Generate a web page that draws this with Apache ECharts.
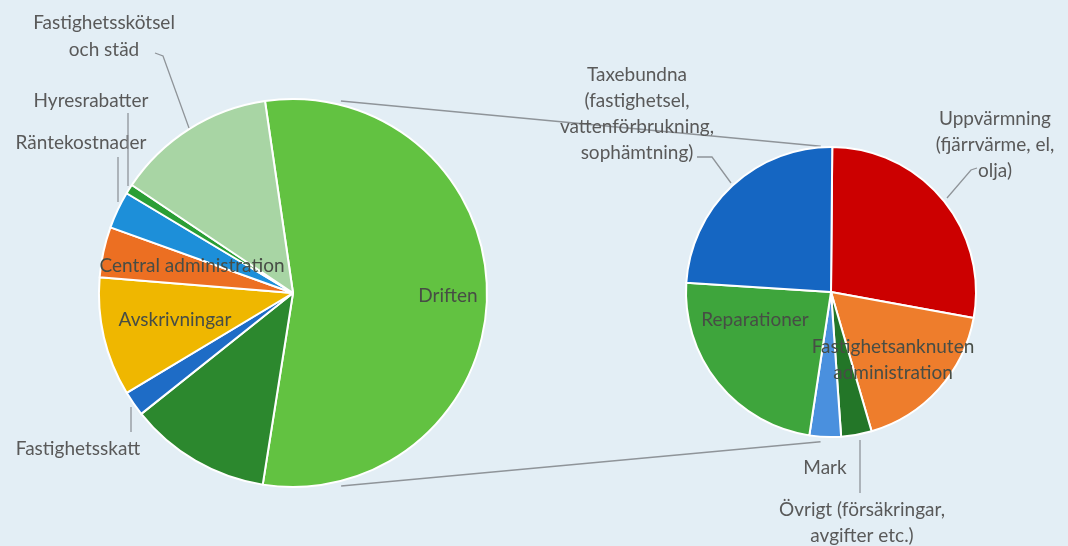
<!DOCTYPE html>
<html>
<head>
<meta charset="utf-8">
<script src="https://cdn.jsdelivr.net/npm/echarts@6/dist/echarts.min.js"></script>
<style>
html,body{margin:0;padding:0;background:#e3eef5;}
#main{width:1068px;height:546px;}
</style>
</head>
<body>
<div id="main"></div>
<script>
// ---- data (shares in %) ----
const mainNames = ['Driften', 'Underhåll', 'Fastighetsskatt', 'Avskrivningar', 'Central administration', 'Räntekostnader', 'Hyresrabatter', 'Fastighetsskötsel\noch städ'];
const mainValues = [54.8, 11.8, 2.1, 9.9, 4.2, 3.1, 0.8, 13.3];
const mainShowLabel = [true, false, true, true, true, true, true, true];

const subNames = ['Uppvärmning\n(fjärrvärme, el,\nolja)', 'Fastighetsanknuten\nadministration', 'Övrigt (försäkringar,\navgifter etc.)', 'Mark', 'Reparationer', 'Taxebundna\n(fastighetsel,\nvattenförbrukning,\nsophämtning)'];
const subValues = [27.7, 17.6, 3.4, 3.5, 23.6, 24.1];

// ---- styling / layout ----
const mainInside = [true, false, false, true, true, false, false, false];
const subInside = [false, true, false, false, true, false];
const mainColors = ['#62c241', '#2c882e', '#1e6cc6', '#efb700', '#ec6f22', '#1d8fd9', '#2b9e35', '#a8d5a4'];
const subColors = ['#cc0000', '#ee7d2c', '#237628', '#4a90de', '#3ea53c', '#1566c2'];
const C1 = [293, 293], R1 = 194;
const C2 = [831, 292], R2 = 145;

const mainLabelPos = {
  'Driften': [448, 296],
  'Fastighetsskatt': [78, 449],
  'Avskrivningar': [175, 320],
  'Central administration': [192, 266],
  'Räntekostnader': [81, 143],
  'Hyresrabatter': [91, 101],
  'Fastighetsskötsel\noch städ': [104, 36]
};
const subLabelPos = {
  'Uppvärmning\n(fjärrvärme, el,\nolja)': [995, 145],
  'Fastighetsanknuten\nadministration': [893, 360],
  'Övrigt (försäkringar,\navgifter etc.)': [862, 523],
  'Mark': [825, 468],
  'Reparationer': [755, 320],
  'Taxebundna\n(fastighetsel,\nvattenförbrukning,\nsophämtning)': [637, 114]
};
// leader lines (decoration)
const leaders = [
  [[155, 53], [163, 56], [189, 128]],
  [[128, 113], [128, 186]],
  [[118, 157], [118, 202]],
  [[131, 407], [131, 432]],
  [[697, 157], [712, 157], [731, 183]],
  [[977, 168], [971, 170], [947, 198]],
  [[860, 440], [860, 493]]
];

const FONT = 'Lato, "Open Sans", sans-serif';
const LINE_COLOR = '#8f9499';

function buildData(names, values, colors, showArr, insideArr) {
  return names.map((n, i) => ({
    name: n,
    value: values[i],
    itemStyle: { color: colors[i] },
    label: {
      show: showArr ? showArr[i] : true,
      position: insideArr[i] ? 'inside' : 'outside',
      color: insideArr[i] ? '#474d45' : '#595959'
    },
    labelLine: { show: false }
  }));
}

const pt = (c, r, deg) => {
  const a = deg * Math.PI / 180;
  return [c[0] + r * Math.sin(a), c[1] - r * Math.cos(a)];
};
const t1 = pt(C1, R1 + 4, 14), b1 = pt(C1, R1 + 5, 166);
const t2 = pt(C2, R2 + 1, -4), b2 = pt(C2, R2 + 5, 184);

const graphics = [
  { type: 'line', z: 0, shape: { x1: t1[0], y1: t1[1], x2: t2[0], y2: t2[1] }, style: { stroke: LINE_COLOR, lineWidth: 1.5 } },
  { type: 'line', z: 0, shape: { x1: b1[0], y1: b1[1], x2: b2[0], y2: b2[1] }, style: { stroke: LINE_COLOR, lineWidth: 1.5 } }
].concat(leaders.map(p => ({ type: 'polyline', z: 10, shape: { points: p }, style: { stroke: LINE_COLOR, lineWidth: 1.3, fill: null } })));

function layoutFor(names, posMap) {
  return function (p) {
    const pos = posMap[names[p.dataIndex]];
    if (!pos) return {};
    return { x: pos[0], y: pos[1], align: 'center', verticalAlign: 'middle', hideOverlap: false };
  };
}

const chart = echarts.init(document.getElementById('main'));
chart.setOption({
  backgroundColor: '#e3eef5',
  animation: false,
  textStyle: { fontFamily: FONT },
  graphic: graphics,
  series: [
    {
      type: 'pie',
      center: C1,
      radius: R1,
      startAngle: 98.3,
      clockwise: true,
      avoidLabelOverlap: false,
      itemStyle: { borderColor: '#ffffff', borderWidth: 2 },
      label: { fontFamily: FONT, fontSize: 19, lineHeight: 27 },
      labelLayout: layoutFor(mainNames, mainLabelPos),
      data: buildData(mainNames, mainValues, mainColors, mainShowLabel, mainInside)
    },
    {
      type: 'pie',
      center: C2,
      radius: R2,
      startAngle: 89.5,
      clockwise: true,
      avoidLabelOverlap: false,
      itemStyle: { borderColor: '#ffffff', borderWidth: 2 },
      label: { fontFamily: FONT, fontSize: 19, lineHeight: 26 },
      labelLayout: layoutFor(subNames, subLabelPos),
      data: buildData(subNames, subValues, subColors, null, subInside)
    }
  ]
});
</script>
</body>
</html>
